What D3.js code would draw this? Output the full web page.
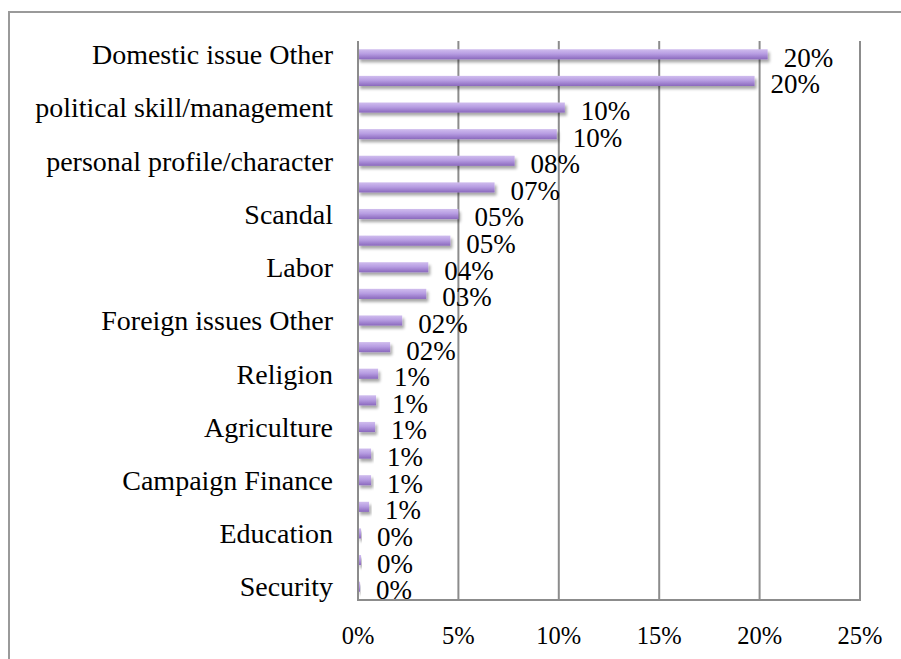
<!DOCTYPE html>
<html>
<head>
<meta charset="utf-8">
<script src="https://cdn.jsdelivr.net/npm/d3@7"></script>
<style>
  html, body { margin: 0; padding: 0; background: #fff; }
  svg { display: block; }
</style>
</head>
<body>
<svg id="chart" width="901" height="659"></svg>
<script>
// Category labels (only every other row carries a visible label)
const categories = [
  "Domestic issue Other", "", "political skill/management", "",
  "personal profile/character", "", "Scandal", "", "Labor", "",
  "Foreign issues Other", "", "Religion", "", "Agriculture", "",
  "Campaign Finance", "", "Education", "", "Security"
];
// Share of mentions (%)
const values = [
  20.4, 19.75, 10.3, 9.9, 7.8, 6.8, 5.0, 4.6, 3.5, 3.4,
  2.2, 1.6, 1.0, 0.9, 0.85, 0.65, 0.65, 0.55, 0.15, 0.15, 0.1
];
// Data labels as printed next to each bar
const valueLabels = [
  "20%", "20%", "10%", "10%", "08%", "07%", "05%", "05%", "04%", "03%",
  "02%", "02%", "1%", "1%", "1%", "1%", "1%", "1%", "0%", "0%", "0%"
];
const xTicks = [0, 5, 10, 15, 20, 25];

const svg = d3.select("#chart");
const fontFamily = "'Liberation Serif', 'Times New Roman', serif";

const plot = { left: 358, right: 860, top: 41, bottom: 600 };

const x = d3.scaleLinear().domain([0, 25]).range([plot.left, plot.right]);
const y = d3.scaleBand()
  .domain(d3.range(categories.length))
  .range([plot.top, plot.bottom])
  .paddingInner(0.62)
  .paddingOuter(0.31);

// Outer chart frame
svg.append("rect")
  .attr("x", 9).attr("y", 12)
  .attr("width", 1000).attr("height", 1000)
  .attr("fill", "none")
  .attr("stroke", "#9a9a9a")
  .attr("stroke-width", 2);

const defs = svg.append("defs");
const grad = defs.append("linearGradient")
  .attr("id", "barFill")
  .attr("x1", 0).attr("y1", 0).attr("x2", 0).attr("y2", 1);
grad.append("stop").attr("offset", "0%").attr("stop-color", "#d0bdee");
grad.append("stop").attr("offset", "45%").attr("stop-color", "#b79de2");
grad.append("stop").attr("offset", "100%").attr("stop-color", "#8a68bd");

const shadow = defs.append("filter")
  .attr("id", "barShadow")
  .attr("x", "-10%").attr("y", "-50%")
  .attr("width", "130%").attr("height", "250%");
shadow.append("feGaussianBlur").attr("in", "SourceAlpha").attr("stdDeviation", 1.6).attr("result", "blur");
shadow.append("feOffset").attr("in", "blur").attr("dx", 2).attr("dy", 3).attr("result", "off");
shadow.append("feComponentTransfer").attr("in", "off").attr("result", "soft")
  .append("feFuncA").attr("type", "linear").attr("slope", 0.35);
const merge = shadow.append("feMerge");
merge.append("feMergeNode").attr("in", "soft");
merge.append("feMergeNode").attr("in", "SourceGraphic");

// Vertical gridlines
svg.append("g")
  .selectAll("line")
  .data(xTicks.slice(1))
  .join("line")
  .attr("x1", d => x(d)).attr("x2", d => x(d))
  .attr("y1", plot.top).attr("y2", plot.bottom)
  .attr("stroke", "#8c8c8c")
  .attr("stroke-width", 2);

// Bars
svg.append("g")
  .selectAll("rect")
  .data(values)
  .join("rect")
  .attr("x", x(0))
  .attr("y", (d, i) => y(i))
  .attr("width", d => x(d) - x(0))
  .attr("height", y.bandwidth())
  .attr("fill", "url(#barFill)")
  .attr("filter", "url(#barShadow)");

// Axes lines
svg.append("line")
  .attr("x1", x(0)).attr("x2", x(0))
  .attr("y1", plot.top).attr("y2", plot.bottom)
  .attr("stroke", "#8c8c8c").attr("stroke-width", 2);
svg.append("line")
  .attr("x1", x(0) - 1).attr("x2", x(25) + 1)
  .attr("y1", plot.bottom).attr("y2", plot.bottom)
  .attr("stroke", "#8c8c8c").attr("stroke-width", 2);

// Category labels
svg.append("g")
  .selectAll("text")
  .data(categories)
  .join("text")
  .attr("x", 333)
  .attr("y", (d, i) => y(i) + y.bandwidth() / 2)
  .attr("dy", "0.35em")
  .attr("text-anchor", "end")
  .attr("font-family", fontFamily)
  .attr("font-size", 28)
  .attr("fill", "#000")
  .text(d => d);

// Value labels
svg.append("g")
  .selectAll("text")
  .data(values)
  .join("text")
  .attr("x", d => x(d) + 16)
  .attr("y", (d, i) => y(i) + y.bandwidth() / 2 + 3)
  .attr("dy", "0.35em")
  .attr("font-family", fontFamily)
  .attr("font-size", 27)
  .attr("fill", "#000")
  .text((d, i) => valueLabels[i]);

// X tick labels
svg.append("g")
  .selectAll("text")
  .data(xTicks)
  .join("text")
  .attr("x", d => x(d))
  .attr("y", 635)
  .attr("dy", "0.35em")
  .attr("text-anchor", "middle")
  .attr("font-family", fontFamily)
  .attr("font-size", 24.5)
  .attr("fill", "#000")
  .text(d => d + "%");
</script>
</body>
</html>
